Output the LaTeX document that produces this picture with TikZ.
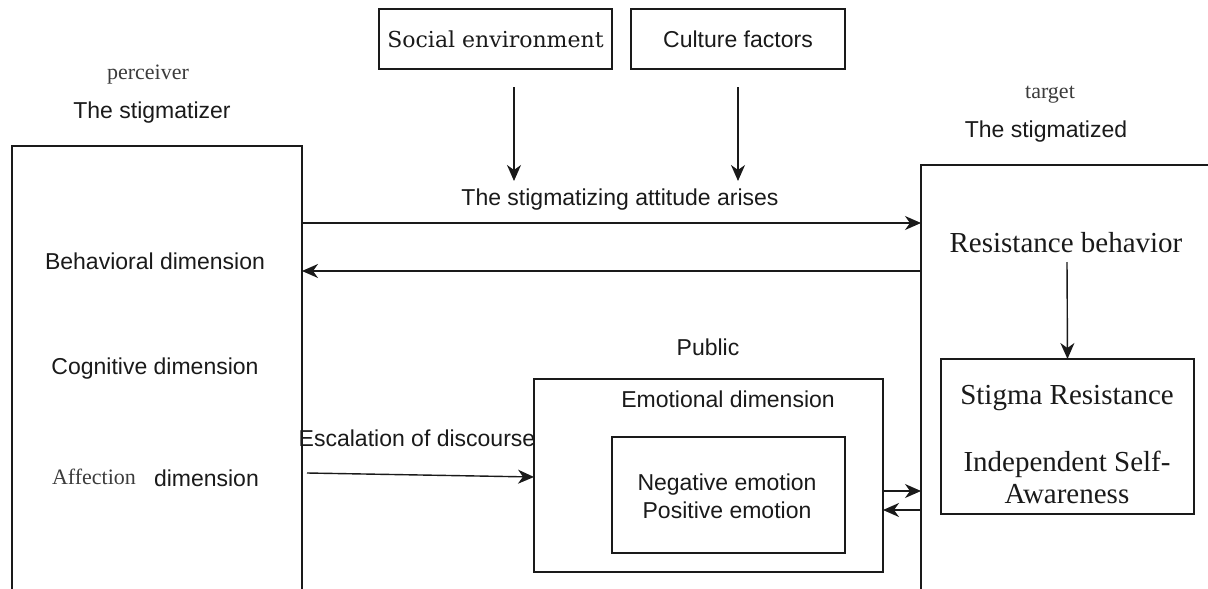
\documentclass[tikz,border=0pt]{standalone}
\usepackage{fontspec}
\setmainfont{Liberation Sans}
\newfontfamily\tms{Liberation Serif}
\newfontfamily\dvs{DejaVu Serif}
\usetikzlibrary{arrows.meta}
\definecolor{ink}{HTML}{1A1A1A}
\definecolor{soft}{HTML}{3C3C3C}
\begin{document}
\begin{tikzpicture}[x=1pt,y=-1pt,
  every node/.style={inner sep=0pt, outer sep=0pt, text=ink},
  sans/.style={font=\fontsize{23}{28}\selectfont},
  serif/.style={font=\tms\fontsize{29}{34}\selectfont},
  smallserif/.style={font=\tms\fontsize{22}{26}\selectfont, text=soft},
  boxed/.style={draw=ink, line width=1.4pt, anchor=north west},
  arr/.style={draw=ink, line width=1.4pt, -{Stealth[length=16pt,width=14pt,inset=5pt]}}]
\clip (0,0) rectangle (1208,589);
\fill[white] (0,0) rectangle (1208,589);
% main boxes
\node[boxed, minimum width=290pt, minimum height=480pt] (perc) at (12,146) {};
\node[boxed, minimum width=320pt, minimum height=460pt] (tgt) at (921,165) {};
\node[boxed, minimum width=233pt, minimum height=60pt] (se) at (379,9) {};
\node[boxed, minimum width=214pt, minimum height=60pt] (cf) at (631,9) {};
\node[boxed, minimum width=349pt, minimum height=193pt] (emo) at (534,379) {};
\node[boxed, minimum width=233pt, minimum height=116pt] (inner) at (612,437) {};
\node[boxed, minimum width=253pt, minimum height=155pt] (stig) at (941,359) {};
% texts
\node[font=\dvs\fontsize{22}{26}\selectfont] (setxt) at (se.center) {Social environment};
\node[sans] (cftxt) at (cf.center) {Culture factors};
\node[smallserif] (percl) at (148,75) {perceiver};
\node[sans] (stgz) at (152,113) {The stigmatizer};
\node[smallserif] (targl) at (1050,95) {target};
\node[sans] (stgd) at (1046,132) {The stigmatized};
\node[sans] (att) at (620,200) {The stigmatizing attitude arises};
\node[sans] (beh) at (155,261) {Behavioral dimension};
\node[sans] (cog) at (155,369) {Cognitive dimension};
\node[smallserif, anchor=west] (aff) at (52,477) {Affection};
\node[sans, anchor=west] (affd) at (154,478) {dimension};
\node[sans] (esc) at (417,438) {Escalation of discourse};
\node[sans] (pub) at (708,347) {Public};
\node[sans] (emot) at (728,399) {Emotional dimension};
\node[sans, align=center] (negpos) at (727,496) {Negative emotion\\Positive emotion};
\node[serif] (rb) at (1066,243) {Resistance behavior};
\node[serif] (sr) at (1067,398) {Stigma Resistance};
\node[serif, align=center, font=\tms\fontsize{29}{32}\selectfont] (isa) at (1067,477) {Independent Self-\\Awareness};
% connector end points
\coordinate (a1s) at (514,87);
\coordinate (a1e) at (514,181);
\coordinate (a2s) at (738,87);
\coordinate (a2e) at (738,181);
\coordinate (rbs) at (1067,262);
% connectors
\draw[arr] (a1s) -- (a1e);
\draw[arr] (a2s) -- (a2e);
\draw[arr] (perc.east |- 0,223) -- (tgt.west |- 0,223);
\draw[arr] (tgt.west |- 0,271) -- (perc.east |- 0,271);
\draw[arr] ([xshift=5pt]perc.east |- 0,473) -- (emo.west |- 0,477);
\draw[arr] (emo.east |- 0,491) -- (tgt.west |- 0,491);
\draw[arr] (tgt.west |- 0,510) -- (emo.east |- 0,510);
\draw[arr] (rbs) -- (stig.north);
\end{tikzpicture}
\end{document}
